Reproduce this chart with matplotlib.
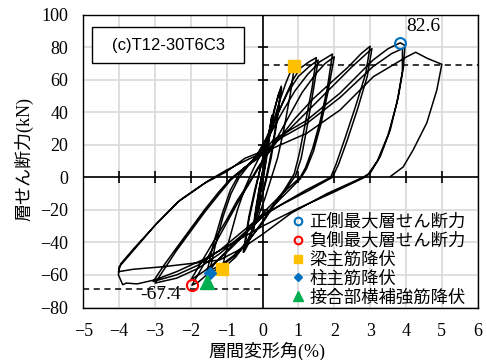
import matplotlib
matplotlib.use("Agg")
import matplotlib.pyplot as plt
from matplotlib.lines import Line2D
from matplotlib.patches import Rectangle
import numpy as np

# ---------------- data (drift %, shear kN) ----------------
c1_x = [0, 0.08, 0.17, 0.26, 0.2, 0.1, 0.0, -0.1, -0.19, -0.26, -0.18, -0.08, 0.02, 0.12, 0.2, 0.27,
        0.2, 0.1, 0.0, -0.1, -0.2, -0.27, -0.18, -0.08]
c1_y = [0, 12, 26, 38, 28, 12, -2, -14, -24, -33, -20, -6, 6, 18, 28, 37,
        26, 10, -3, -15, -25, -32, -18, -5]

c2_x = [0.05, 0.18, 0.32, 0.43, 0.52, 0.4, 0.25, 0.12, 0.0, -0.14, -0.3, -0.42, -0.52, -0.38, -0.22, -0.1,
        0.03, 0.18, 0.33, 0.45, 0.53, 0.4, 0.24, 0.1, -0.04, -0.2, -0.36, -0.48, -0.54, -0.38, -0.22, -0.08]
c2_y = [8, 24, 40, 50, 56, 36, 16, 2, -10, -22, -34, -42, -46, -26, -10, 2,
        14, 28, 42, 51, 55, 34, 12, -2, -14, -26, -37, -43, -46, -24, -8, 4]

c3_x = [0.05, 0.25, 0.45, 0.65, 0.8, 0.89, 0.78, 0.6, 0.42, 0.25, 0.08, -0.15, -0.45, -0.75, -1.0, -1.14,
        -0.95, -0.7, -0.48, -0.28, -0.1]
c3_y = [14, 30, 45, 58, 66, 68.5, 52, 30, 12, 0, -12, -26, -40, -49, -54, -56.5,
        -40, -20, -6, 4, 12]

c4_x = [0.1, 0.35, 0.6, 0.85, 1.05, 1.3, 1.5, 1.38, 1.2, 1.02, 0.88, 0.6, 0.3, 0.0, -0.35, -0.7, -1.0,
        -1.25, -1.5, -1.32, -1.1, -0.88, -0.65, -0.4, -0.15, 0.1, 0.4, 0.7, 1.0, 1.3, 1.55, 1.42, 1.25,
        1.08, 0.92, 0.6, 0.3, 0.0, -0.4, -0.8, -1.1, -1.35, -1.55, -1.36, -1.12, -0.9, -0.65, -0.35]
c4_y = [20, 35, 48, 60, 67, 71, 73.5, 55, 34, 14, 2, -8, -17, -27, -38, -47, -52,
        -56, -60, -42, -24, -10, 0, 7, 14, 24, 38, 52, 62, 68, 72, 54, 32,
        12, 1, -9, -18, -28, -39, -48, -53, -56, -58, -40, -22, -8, 2, 9]

c5_x = [-0.1, 0.2, 0.55, 0.9, 1.25, 1.6, 1.95, 1.8, 1.6, 1.4, 1.2, 1.05, 0.6, 0.1, -0.4, -0.9, -1.3,
        -1.56, -1.8, -1.97, -1.6, -1.25, -0.95, -0.65, -0.35, -0.05, 0.3, 0.7, 1.1, 1.5, 1.75, 2.0,
        1.82, 1.62, 1.42, 1.22, 1.05, 0.6, 0.1, -0.4, -0.9, -1.3, -1.65, -2.0,
        -1.65, -1.3, -1.0, -0.7, -0.4, -0.1]
c5_y = [14, 26, 40, 53, 63, 71, 75.7, 54, 34, 18, 6, 0, -9, -20, -32, -43, -52,
        -60, -64.5, -66.3, -52, -38, -26, -14, -3, 8, 20, 36, 52, 64, 70, 74,
        52, 32, 16, 5, -1, -11, -22, -33, -44, -52, -58, -63,
        -50, -37, -26, -14, -4, 7]

c6_x = [0.4, 0.9, 1.4, 1.9, 2.4, 2.75, 3.0, 2.88, 2.6, 2.3, 2.05, 1.9, 1.2, 0.5, 0.0, -0.6, -1.2, -1.8,
        -2.4, -3.0, -2.7, -2.4, -2.0, -1.6, -1.2, -0.9, -0.5, 0.0,
        0.5, 1.0, 1.5, 2.0, 2.5, 2.9, 3.05, 2.92, 2.65, 2.35, 2.12, 1.95, 1.3, 0.6, 0.0, -0.6, -1.2,
        -1.8, -2.4, -3.05, -2.75, -2.42, -2.02, -1.62, -1.22, -0.9, -0.5, -0.1]
c6_y = [22, 36, 48, 58, 68, 76, 80.5, 64, 44, 24, 8, 0, -8, -17, -24, -36, -47, -56,
        -62, -65, -55, -45, -33, -21, -10, -2, 6, 14,
        24, 35, 46, 57, 68, 76, 79, 62, 42, 22, 8, 0, -8, -16, -23, -34, -45,
        -54, -60, -64, -54, -44, -32, -20, -9, -1, 6, 12]

c7_x = [0.3, 1.23, 2.16, 3.08, 3.5, 3.84, 3.97, 3.93, 3.79, 3.56, 3.28, 3.0, 2.85, 2.0, 1.0, 0.0,
        -0.8, -1.6, -2.4, -3.0, -3.5, -3.8, -3.9, -4.02, -4.0, -3.8, -3.51, -2.95, -2.3, -1.56, -1.0,
        -0.44, 0.0,
        0.5, 1.23, 2.16, 3.08, 3.6, 3.9, 3.9, 3.75, 3.5, 3.2, 2.95, 2.8, 1.8, 0.8, 0.0, -0.6, -1.2,
        -2.0, -2.8, -3.6, -4.02, -3.95, -3.6, -3.0, -2.35, -1.6, -1.0, -0.49, 0.0]
c7_y = [23, 35, 51.7, 72, 79, 82.6, 81, 68, 50, 29, 12.6, 2.5, 0, -9, -19, -30,
        -40, -50, -58, -63, -65.5, -65, -66, -60, -55, -50, -42.6, -28.3, -14, -2.7, 4.5,
        10.6, 15,
        24, 33, 49, 68, 76, 79, 65, 46, 26, 10, 2, 0, -10, -22, -35, -44, -50.8,
        -53, -55, -56.5, -58, -53, -44, -29.5, -15, -3.5, 3.5, 11.7, 16]

c8_x = [0.3, 1.23, 2.16, 3.09, 4.02, 4.27, 4.6, 5.0, 4.86, 4.58, 4.2, 3.92, 3.56]
c8_y = [18, 27, 41.3, 61.8, 74, 76.8, 73, 69.4, 53.6, 33.4, 16.8, 6.3, 0.4]

# event markers
pos_max = (3.84, 82.6)
neg_max = (-1.97, -66.3)
beam_yield_x = [0.89, -1.14]
beam_yield_y = [68.5, -56.5]
col_yield = (-1.46, -58.6)
joint_yield = (-1.56, -64.1)
pos_ref_level = 69.0
neg_ref_level = -68.5

x_ticks = list(range(-5, 7))
y_ticks = list(range(-80, 101, 20))
legend_labels = ["正側最大層せん断力", "負側最大層せん断力", "梁主筋降伏", "柱主筋降伏", "接合部横補強筋降伏"]

# ---------------- figure ----------------
serif = ["Liberation Serif", "Noto Sans CJK JP"]
cjk = ["Noto Sans CJK JP", "DejaVu Sans"]

fig = plt.figure(figsize=(4.87, 3.6), dpi=100)
ax = fig.add_axes([83.3 / 487, 1 - 307.5 / 360, 394.4 / 487, 293 / 360])
ax.set_xlim(-5, 6)
ax.set_ylim(-80, 100)
ax.set_xticks(x_ticks)
ax.set_yticks(y_ticks)
ax.grid(True, color="#d9d9d9", lw=1.2)
ax.set_axisbelow(True)
ax.tick_params(length=0, pad=11, labelsize=13)
for lab in ax.get_xticklabels() + ax.get_yticklabels():
    lab.set_family(serif)
for sp in ax.spines.values():
    sp.set_color("black")
    sp.set_linewidth(1.0)

# zero axes with crossing ticks
ax.axhline(0, color="black", lw=1.2, zorder=2)
ax.axvline(0, color="black", lw=1.2, zorder=2)
xt_in = [t for t in x_ticks if t not in (x_ticks[0], x_ticks[-1], 0)]
yt_in = [t for t in y_ticks if t not in (y_ticks[0], y_ticks[-1], 0)]
ax.plot(xt_in, [0] * len(xt_in), ls="none", marker="|", ms=8.5, mew=1.2, color="black", zorder=2)
ax.plot([0] * len(yt_in), yt_in, ls="none", marker="_", ms=7.5, mew=1.2, color="black", zorder=2)

# reference dashed lines
ax.plot([0, 6], [pos_ref_level, pos_ref_level], ls=(0, (4, 3)), color="black", lw=1.1, zorder=3)
ax.plot([-5, 0], [neg_ref_level, neg_ref_level], ls=(0, (4, 3)), color="black", lw=1.1, zorder=3)

# hysteresis
xs = c1_x + c2_x + c3_x + c4_x + c5_x + c6_x + c7_x + c8_x
ys = c1_y + c2_y + c3_y + c4_y + c5_y + c6_y + c7_y + c8_y
ax.plot(xs, ys, color="black", lw=1.1, zorder=4, solid_joinstyle="round")

# markers
ax.plot(*pos_max, marker="o", ms=7.8, mfc="none", mec="#0070C0", mew=1.5, zorder=6)
ax.plot(*neg_max, marker="o", ms=8, mfc="none", mec="#FF0000", mew=1.5, zorder=6)
ax.plot(beam_yield_x, beam_yield_y, ls="none", marker="s", ms=8, color="#FFC000", zorder=6)
ax.plot(*col_yield, marker="D", ms=6.5, color="#0070C0", zorder=6)
ax.plot(*joint_yield, marker="^", ms=10, color="#00B050", zorder=6)

ax.text(4.49, 92.5, "82.6", ha="center", va="center", fontsize=14, family=serif, zorder=7)
ax.text(-2.84, -72.3, "-67.4", ha="center", va="center", fontsize=14, family=serif, zorder=7)

# title box
ax.add_patch(Rectangle((0.0228, 0.833), 0.3839, 0.125, transform=ax.transAxes,
                       fill=True, facecolor="white", edgecolor="black", lw=1.0, zorder=8))
ax.text(0.2148, 0.8955, "(c)T12-30T6C3", transform=ax.transAxes, ha="center", va="center",
        fontsize=12, family=["Liberation Sans", "DejaVu Sans"], zorder=9)

# legend
handles = [
    Line2D([], [], ls="none", marker="o", ms=5.5, mfc="none", mec="#0070C0", mew=1.5),
    Line2D([], [], ls="none", marker="o", ms=5.5, mfc="none", mec="#FF0000", mew=1.5),
    Line2D([], [], ls="none", marker="s", ms=5.5, color="#FFC000"),
    Line2D([], [], ls="none", marker="D", ms=4.2, color="#0070C0"),
    Line2D([], [], ls="none", marker="^", ms=6.5, color="#00B050"),
]
leg = ax.legend(handles, legend_labels, loc="upper left", bbox_to_anchor=(0.5216, 0.323),
                frameon=False, borderpad=0, handlelength=1.0, handletextpad=0.17,
                labelspacing=0.05, borderaxespad=0,
                prop={"family": cjk, "size": 12.5})
leg.set_zorder(10)

# axis labels
fig.text(266.7 / 487, 1 - 351.7 / 360, "層間変形角(%)", ha="center", va="center",
         fontsize=13, family=serif)
fig.text(24 / 487, 1 - 159 / 360, "層せん断力(kN)", ha="center", va="center",
         rotation=90, fontsize=13, family=serif)

fig.savefig("out.png", dpi=100)
